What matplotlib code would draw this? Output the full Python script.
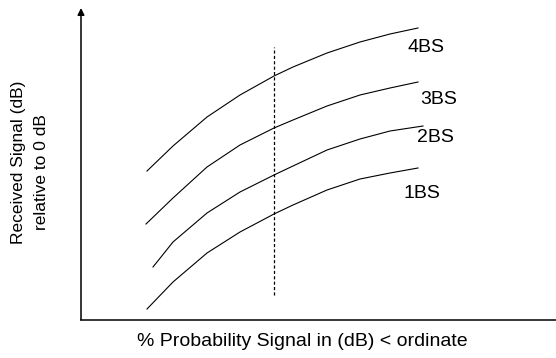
import matplotlib
matplotlib.use("Agg")
import matplotlib.pyplot as plt

plt.rcParams['font.family'] = ['Liberation Sans', 'DejaVu Sans']

# curve samples (x along the probability axis, y received signal)
x_4bs = [66, 92, 126, 159, 193, 212, 246, 279, 309, 337]
y_4bs = [149, 174, 203, 225, 244, 253, 267, 278, 286, 292]
x_3bs = [65, 92, 126, 159, 193, 212, 246, 279, 309, 337]
y_3bs = [96, 122, 153, 175, 192, 200, 214, 225, 232, 238]
x_2bs = [72, 92, 126, 159, 193, 212, 246, 279, 309, 342]
y_2bs = [53, 78, 107, 128, 145, 154, 170, 181, 189, 194]
x_1bs = [66, 92, 126, 159, 193, 212, 246, 279, 309, 337]
y_1bs = [11, 38, 67, 88, 106, 115, 130, 141, 147, 152]

labels = ["4BS", "3BS", "2BS", "1BS"]
label_x = [345, 358, 354, 341]
label_y = [273, 220, 183, 126]

marker_x = 193
marker_y = [25, 273]

fig = plt.figure(figsize=(5.56, 3.58), dpi=100)
ax = fig.add_axes([81 / 556, 38 / 358, 475 / 556, 312 / 358])
ax.set_xlim(0, 475)
ax.set_ylim(0, 312)

for xs, ys in [(x_4bs, y_4bs), (x_3bs, y_3bs), (x_2bs, y_2bs), (x_1bs, y_1bs)]:
    ax.plot(xs, ys, color='black', linewidth=0.8, solid_joinstyle='round')

ax.plot([marker_x, marker_x], marker_y, color='black', linewidth=0.9,
        linestyle=(0, (2.5, 1.8)))

for lab, lx, ly in zip(labels, label_x, label_y):
    ax.text(lx, ly, lab, fontsize=14, ha='center', va='center')

for side in ['top', 'right', 'left']:
    ax.spines[side].set_visible(False)
ax.spines['bottom'].set_linewidth(1.1)
ax.set_xticks([])
ax.set_yticks([])

# y axis with arrow head
ax.annotate('', xy=(0, 1.0), xycoords='axes fraction', xytext=(0, 0),
            textcoords='axes fraction',
            arrowprops=dict(arrowstyle='-|>', color='black', lw=1.1,
                            mutation_scale=10, shrinkA=0, shrinkB=0))

fig.text(302 / 556, 1 - 341 / 358, "% Probability Signal in (dB) < ordinate",
         fontsize=14, ha='center', va='center')
fig.text(19 / 556, 1 - 162 / 358, "Received Signal (dB)",
         fontsize=12.5, ha='center', va='center', rotation=90)
fig.text(42 / 556, 1 - 172 / 358, "relative to 0 dB",
         fontsize=12.5, ha='center', va='center', rotation=90)

fig.savefig("out.png", dpi=100)
